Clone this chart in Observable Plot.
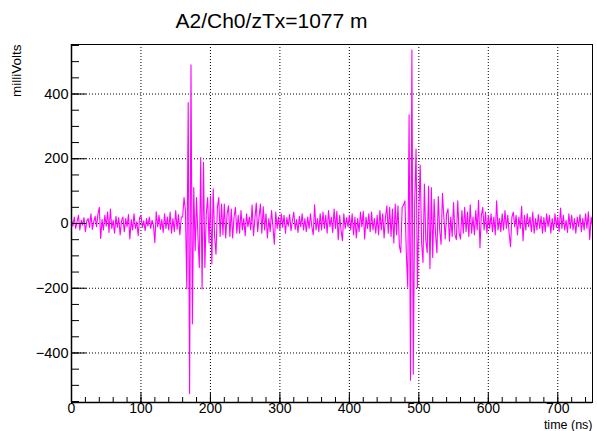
<!DOCTYPE html>
<html>
<head>
<meta charset="utf-8">
<script src="https://cdn.jsdelivr.net/npm/d3@7"></script>
<script src="https://cdn.jsdelivr.net/npm/@observablehq/plot@0.6"></script>
<style>
  html, body { margin: 0; padding: 0; background: #fff; }
  #chart { width: 597px; height: 431px; }
</style>
</head>
<body>
<div id="chart"></div>
<script>
// ---- data ----
const chartTitle = "A2/Ch0/zTx=1077 m";
const xLabel = "time (ns)";
const yLabel = "milliVolts";
const sampleStepNs = 2;   // sampling interval of the trace
const milliVolts = [
  12, -8, 20, -15, 5, 25, -20, 10, -5, 18,
  -25, 8, 15, -12, 30, -18, 5, 22, -10, 28,
  50, -46, 12, -20, 25, -8, 35, -28, 45, -15,
  10, -30, 22, -12, 18, -35, 8, 20, -25, 15,
  -10, 28, -48, 12, -20, 30, -15, 5, -38, 18,
  25, -12, 8, -22, 15, -8, 20, -15, 10, -5,
  -59, 36, -10, 25, -18, 12, -28, 30, -15, 20,
  -20, 35, -30, 15, -25, 40, -18, 28, -35, 20,
  20, 80, 40, -202, 374, -525, 490, -310, 111, -84,
  80, -40, -136, 204, -202, 189, -136, 30, 80, -60,
  85, -125, 107, -40, -95, 50, 80, -40, 60, -35,
  60, -45, 30, 55, -40, 45, -45, 20, 50, -30,
  25, -30, 40, -20, 15, -38, 30, -10, 20, -20,
  57, -38, 15, 63, -25, 20, 60, -30, 52, -20,
  30, -45, 15, -25, 40, -10, -64, 35, -15, 20,
  -20, 30, -12, 25, -30, 18, -8, 28, -22, 10,
  35, -18, 12, -28, 22, -10, 30, -20, 15, -25,
  20, -15, 30, -10, -35, 58, -20, 15, -25, 30,
  -20, 35, -15, 25, -30, 40, -10, 20, -28, 45,
  -15, 38, -50, 25, -20, -53, 30, -15, 18, -10,
  25, -20, 30, -35, 20, -45, 15, -25, 35, -10,
  38, -48, 20, -15, 30, -25, 35, -20, 15, -30,
  25, -35, 40, -20, 30, -45, 20, 55, -30, 50,
  -40, 45, -60, 60, -35, 55, -70, -90, 50, 57,
  70, -92, -196, 336, -484, 536, -466, 60, 230, -198,
  40, 180, -60, -120, 122, -50, -90, 115, -140, 111,
  -105, 75, -30, -90, 83, -20, -64, 93, 20, -48,
  30, 45, -55, 20, -40, 65, -35, -50, 70, -30,
  -48, 40, -30, 50, -25, 35, -40, 58, -30, 20,
  -35, 40, -20, 72, -75, 25, 50, -20, 35, -30,
  25, -15, 30, -25, 20, -35, 70, -20, 15, -25,
  30, -20, 40, -15, 25, -30, -72, 20, 35, -10,
  25, -35, 20, -15, 53, -53, 25, -20, 30, -10,
  20, -25, 35, -30, 15, -20, 28, -15, 22, -30,
  18, -25, 30, -10, 25, -30, 15, -20, 30, -12,
  20, -25, 48, -15, 25, -20, 10, -28, 30, -15,
  25, -20, 15, -30, 20, -10, 28, -25, 15, -20,
  30, -15, 36, -49, 20, -10
];
const xDomain = [0, 750];
const yDomain = [-553, 553];
const xMajorTicks = [0, 100, 200, 300, 400, 500, 600, 700];
const yMajorTicks = [-400, -200, 0, 200, 400];
const xMinorTicks = d3.range(0, 751, 20);
const yMinorTicks = d3.range(-550, 551, 50);

// ---- build ----
const trace = milliVolts.map((v, i) => ({t: i * sampleStepNs, v}));
const fmt = d => (d < 0 ? "\u2212" + Math.abs(d) : String(d));

const W = 597, H = 431;
const mL = 71, mR = 5, mT = 44, mB = 29;
const pw = W - mL - mR, ph = H - mT - mB;
const font = "'Liberation Sans', Arial, Helvetica, sans-serif";

const chart = Plot.plot({
  width: W, height: H,
  marginLeft: mL, marginRight: mR, marginTop: mT, marginBottom: mB,
  style: {fontFamily: font, background: "#fff", overflow: "visible"},
  x: {domain: xDomain, axis: null},
  y: {domain: yDomain, axis: null},
  marks: [
    // grid
    Plot.ruleX(xMajorTicks, {stroke: "#000", strokeWidth: 1, strokeDasharray: "1,2"}),
    Plot.ruleY(yMajorTicks, {stroke: "#000", strokeWidth: 1, strokeDasharray: "1,2"}),
    // trace
    Plot.line(trace, {x: "t", y: "v", stroke: "#ff00ff", strokeWidth: 1.1, clip: true}),
    // frame
    Plot.frame({stroke: "#000", strokeWidth: 1}),
    // ticks (inside)
    Plot.ruleX(xMajorTicks, {insetTop: ph - 10, stroke: "#000"}),
    Plot.ruleX(xMinorTicks, {insetTop: ph - 5, stroke: "#000"}),
    Plot.ruleY(yMajorTicks, {insetRight: pw - 15, stroke: "#000"}),
    Plot.ruleY(yMinorTicks, {insetRight: pw - 8, stroke: "#000"}),
    Plot.ruleX([xDomain[0]], {stroke: "#000", strokeWidth: 1.5}),
    Plot.ruleY([yDomain[0]], {stroke: "#000", strokeWidth: 1.5}),
    // tick labels
    Plot.text(xMajorTicks, {x: d => d, frameAnchor: "bottom", text: fmt, lineAnchor: "top", dy: 1, fontSize: 14, fill: "#000"}),
    Plot.text(yMajorTicks, {y: d => d, frameAnchor: "left", text: fmt, textAnchor: "end", dx: -3, fontSize: 14.5, fill: "#000"}),
    // axis titles
    Plot.text([xLabel], {frameAnchor: "bottom-right", textAnchor: "end", lineAnchor: "middle", dy: 22, fontSize: 12.5, fill: "#000"}),
    Plot.text([yLabel], {frameAnchor: "top-left", textAnchor: "end", lineAnchor: "middle", rotate: -90, dx: -55, dy: 0, fontSize: 13.5, fill: "#000"}),
    // title
    Plot.text([chartTitle], {frameAnchor: "top-left", textAnchor: "middle", lineAnchor: "bottom", dx: 200, dy: -17, fontSize: 21, fill: "#000"})
  ]
});
document.getElementById("chart").appendChild(chart);
</script>
</body>
</html>
